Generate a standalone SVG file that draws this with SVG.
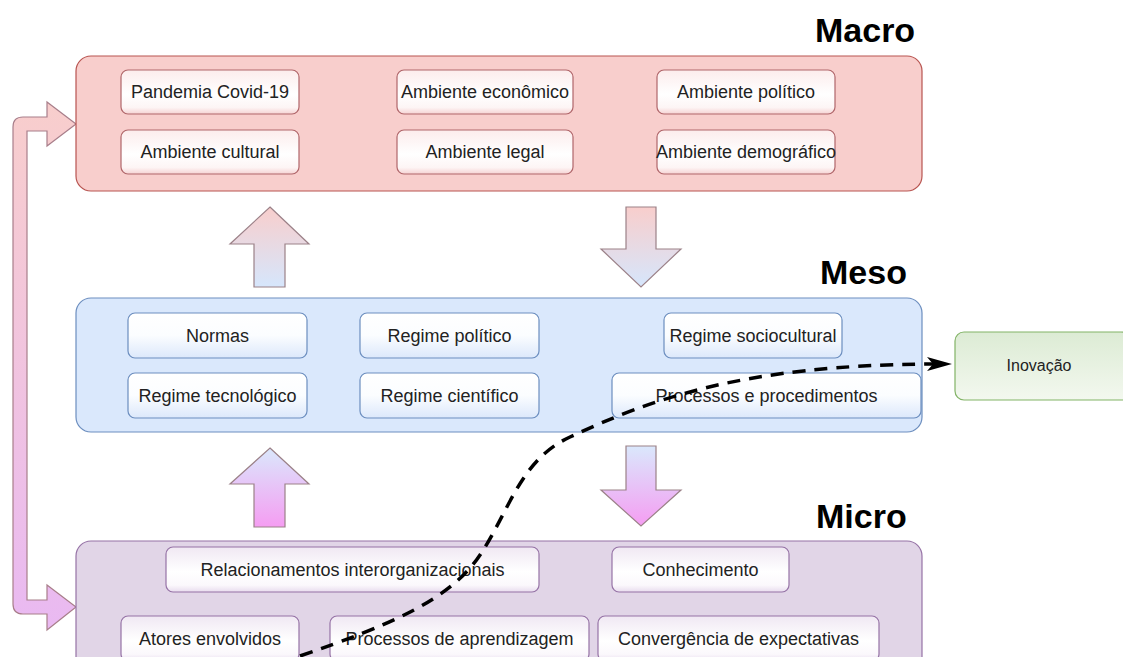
<svg xmlns="http://www.w3.org/2000/svg" width="1123" height="657" viewBox="0 0 1123 657">
<style>
  .t { font-family: "Liberation Sans", Arial, sans-serif; font-size: 18px; fill: #222; text-anchor: middle; }
  .title { font-family: "Liberation Sans", Arial, sans-serif; font-size: 34px; font-weight: bold; fill: #000; }
  .macroBox { fill: #f8cecc; stroke: #b85450; stroke-width: 1.2; }
  .mesoBox { fill: #dae8fc; stroke: #6c8ebf; stroke-width: 1.2; }
  .microBox { fill: #e1d5e7; stroke: #9673a6; stroke-width: 1.2; }
  .macroIn { fill: url(#gMacroIn); stroke: #b0666a; stroke-width: 1.2; }
  .mesoIn { fill: url(#gMesoIn); stroke: #6c8ebf; stroke-width: 1.2; }
  .microIn { fill: url(#gMicroIn); stroke: #9673a6; stroke-width: 1.2; }
  .blk { stroke: #9b8188; stroke-width: 1.2; }
  .dash { fill: none; stroke: #000; stroke-width: 3.5; stroke-dasharray: 13 9; }
</style>
<defs>
  <linearGradient id="gMacroIn" x1="0" y1="0" x2="0" y2="1">
    <stop offset="0" stop-color="#fcecec"/>
    <stop offset="0.55" stop-color="#ffffff"/>
    <stop offset="0.85" stop-color="#fdf5f5"/>
    <stop offset="1" stop-color="#f6d3d3"/>
  </linearGradient>
  <linearGradient id="gMesoIn" x1="0" y1="0" x2="0" y2="1">
    <stop offset="0" stop-color="#ffffff"/>
    <stop offset="0.5" stop-color="#fbfdff"/>
    <stop offset="1" stop-color="#dce8fb"/>
  </linearGradient>
  <linearGradient id="gMicroIn" x1="0" y1="0" x2="0" y2="1">
    <stop offset="0" stop-color="#f0e8f3"/>
    <stop offset="0.55" stop-color="#ffffff"/>
    <stop offset="0.85" stop-color="#fbf8fc"/>
    <stop offset="1" stop-color="#e8dcee"/>
  </linearGradient>
  <linearGradient id="gInov" x1="0" y1="0" x2="0" y2="1">
    <stop offset="0" stop-color="#dcebd4"/>
    <stop offset="1" stop-color="#f3f8ef"/>
  </linearGradient>
  <linearGradient id="gPinkBlue" x1="0" y1="0" x2="0" y2="1">
    <stop offset="0" stop-color="#f8cecc"/>
    <stop offset="1" stop-color="#d6e6fc"/>
  </linearGradient>
  <linearGradient id="gBlueMag" x1="0" y1="0" x2="0" y2="1">
    <stop offset="0" stop-color="#dae8fc"/>
    <stop offset="1" stop-color="#f59df2"/>
  </linearGradient>
  <linearGradient id="gLoop" gradientUnits="userSpaceOnUse" x1="0" y1="100" x2="0" y2="632">
    <stop offset="0" stop-color="#f8cecc"/>
    <stop offset="1" stop-color="#e9b9f2"/>
  </linearGradient>
  <marker id="arr" viewBox="0 0 25 14" markerWidth="25" markerHeight="14" refX="6" refY="7" orient="auto" markerUnits="userSpaceOnUse">
    <path d="M0,0 L25,7 L0,14 L6,7 Z" fill="#000"/>
  </marker>
</defs>

<rect width="1123" height="657" fill="#ffffff"/>

<!-- Loop arrow Micro -> Macro / Macro -> Micro -->
<g id="loop">
  <path d="M76 124 L47 102 L47 117 L23 117 Q13 117 13 127 L13 604 Q13 614 23 614 L47 614 L47 630 L76 607 L47 585 L47 600 L27 600 L27 131 L47 131 L47 146 Z" fill="url(#gLoop)" stroke="#a87e8a" stroke-width="1.2"/>
</g>

<!-- Macro -->
<g id="macro">
  <text class="title" x="815" y="42">Macro</text>
  <rect class="macroBox" x="76" y="56" width="846" height="135" rx="15"/>
  <g id="n-pandemia"><rect class="macroIn" x="121" y="70" width="178" height="44" rx="7"/><text class="t" x="210" y="98">Pandemia Covid-19</text></g>
  <g id="n-economico"><rect class="macroIn" x="397" y="70" width="176" height="44" rx="7"/><text class="t" x="485" y="98">Ambiente econômico</text></g>
  <g id="n-politico"><rect class="macroIn" x="657" y="70" width="178" height="44" rx="7"/><text class="t" x="746" y="98">Ambiente político</text></g>
  <g id="n-cultural"><rect class="macroIn" x="121" y="130" width="178" height="44" rx="7"/><text class="t" x="210" y="158">Ambiente cultural</text></g>
  <g id="n-legal"><rect class="macroIn" x="397" y="130" width="176" height="44" rx="7"/><text class="t" x="485" y="158">Ambiente legal</text></g>
  <g id="n-demografico"><rect class="macroIn" x="657" y="130" width="178" height="44" rx="7"/><text class="t" x="746" y="158">Ambiente demográfico</text></g>
</g>

<!-- Block arrows Macro/Meso -->
<g id="arrow-meso-macro">
  <path class="blk" d="M270 207 L309 244 L285 244 L285 287 L254 287 L254 244 L230 244 Z" fill="url(#gPinkBlue)"/>
</g>
<g id="arrow-macro-meso">
  <path class="blk" d="M626 207 L656 207 L656 249 L681 249 L641 287 L601 249 L626 249 Z" fill="url(#gPinkBlue)"/>
</g>

<!-- Meso -->
<g id="meso">
  <text class="title" x="820" y="284">Meso</text>
  <rect class="mesoBox" x="76" y="298" width="846" height="134" rx="15"/>
  <g id="n-normas"><rect class="mesoIn" x="128" y="313" width="179" height="45" rx="7"/><text class="t" x="217.5" y="342">Normas</text></g>
  <g id="n-regpol"><rect class="mesoIn" x="360" y="313" width="179" height="45" rx="7"/><text class="t" x="449.5" y="342">Regime político</text></g>
  <g id="n-regsoc"><rect class="mesoIn" x="664" y="313" width="178" height="45" rx="7"/><text class="t" x="753" y="342">Regime sociocultural</text></g>
  <g id="n-regtec"><rect class="mesoIn" x="128" y="373" width="179" height="45" rx="7"/><text class="t" x="217.5" y="402">Regime tecnológico</text></g>
  <g id="n-regcien"><rect class="mesoIn" x="360" y="373" width="179" height="45" rx="7"/><text class="t" x="449.5" y="402">Regime científico</text></g>
  <g id="n-processos"><rect class="mesoIn" x="612" y="373" width="309" height="45" rx="7"/><text class="t" x="766.5" y="402">Processos e procedimentos</text></g>
</g>

<!-- Block arrows Meso/Micro -->
<g id="arrow-micro-meso">
  <path class="blk" d="M270 448 L309 484 L285 484 L285 527 L254 527 L254 484 L230 484 Z" fill="url(#gBlueMag)"/>
</g>
<g id="arrow-meso-micro">
  <path class="blk" d="M626 446 L656 446 L656 490 L681 490 L641 526 L601 490 L626 490 Z" fill="url(#gBlueMag)"/>
</g>

<!-- Micro -->
<g id="micro">
  <text class="title" x="816" y="528">Micro</text>
  <rect class="microBox" x="76" y="541" width="846" height="160" rx="15"/>
  <g id="n-relac"><rect class="microIn" x="166" y="547" width="373" height="45" rx="7"/><text class="t" x="352.5" y="576">Relacionamentos interorganizacionais</text></g>
  <g id="n-conhec"><rect class="microIn" x="612" y="547" width="177" height="45" rx="7"/><text class="t" x="700.5" y="576">Conhecimento</text></g>
  <g id="n-atores"><rect class="microIn" x="121" y="616" width="178" height="45" rx="7"/><text class="t" x="210" y="645">Atores envolvidos</text></g>
  <g id="n-aprend"><rect class="microIn" x="330" y="616" width="259" height="45" rx="7"/><text class="t" x="459.5" y="645">Processos de aprendizagem</text></g>
  <g id="n-converg"><rect class="microIn" x="598" y="616" width="281" height="45" rx="7"/><text class="t" x="738.5" y="645">Convergência de expectativas</text></g>
</g>

<!-- Inovação -->
<g id="inovacao">
  <rect x="955" y="332" width="175" height="68" rx="9" fill="url(#gInov)" stroke="#82b366" stroke-width="1.2"/>
  <text class="t" x="1039" y="371" style="font-size:16px">Inovação</text>
</g>

<!-- Connectors -->
<g id="connectors">
  <path class="dash" d="M300 656 C390 625, 450 600, 480 555 C510 510, 520 460, 570 437 C650 400, 740 365, 933 364" marker-end="url(#arr)"/>
</g>
</svg>
